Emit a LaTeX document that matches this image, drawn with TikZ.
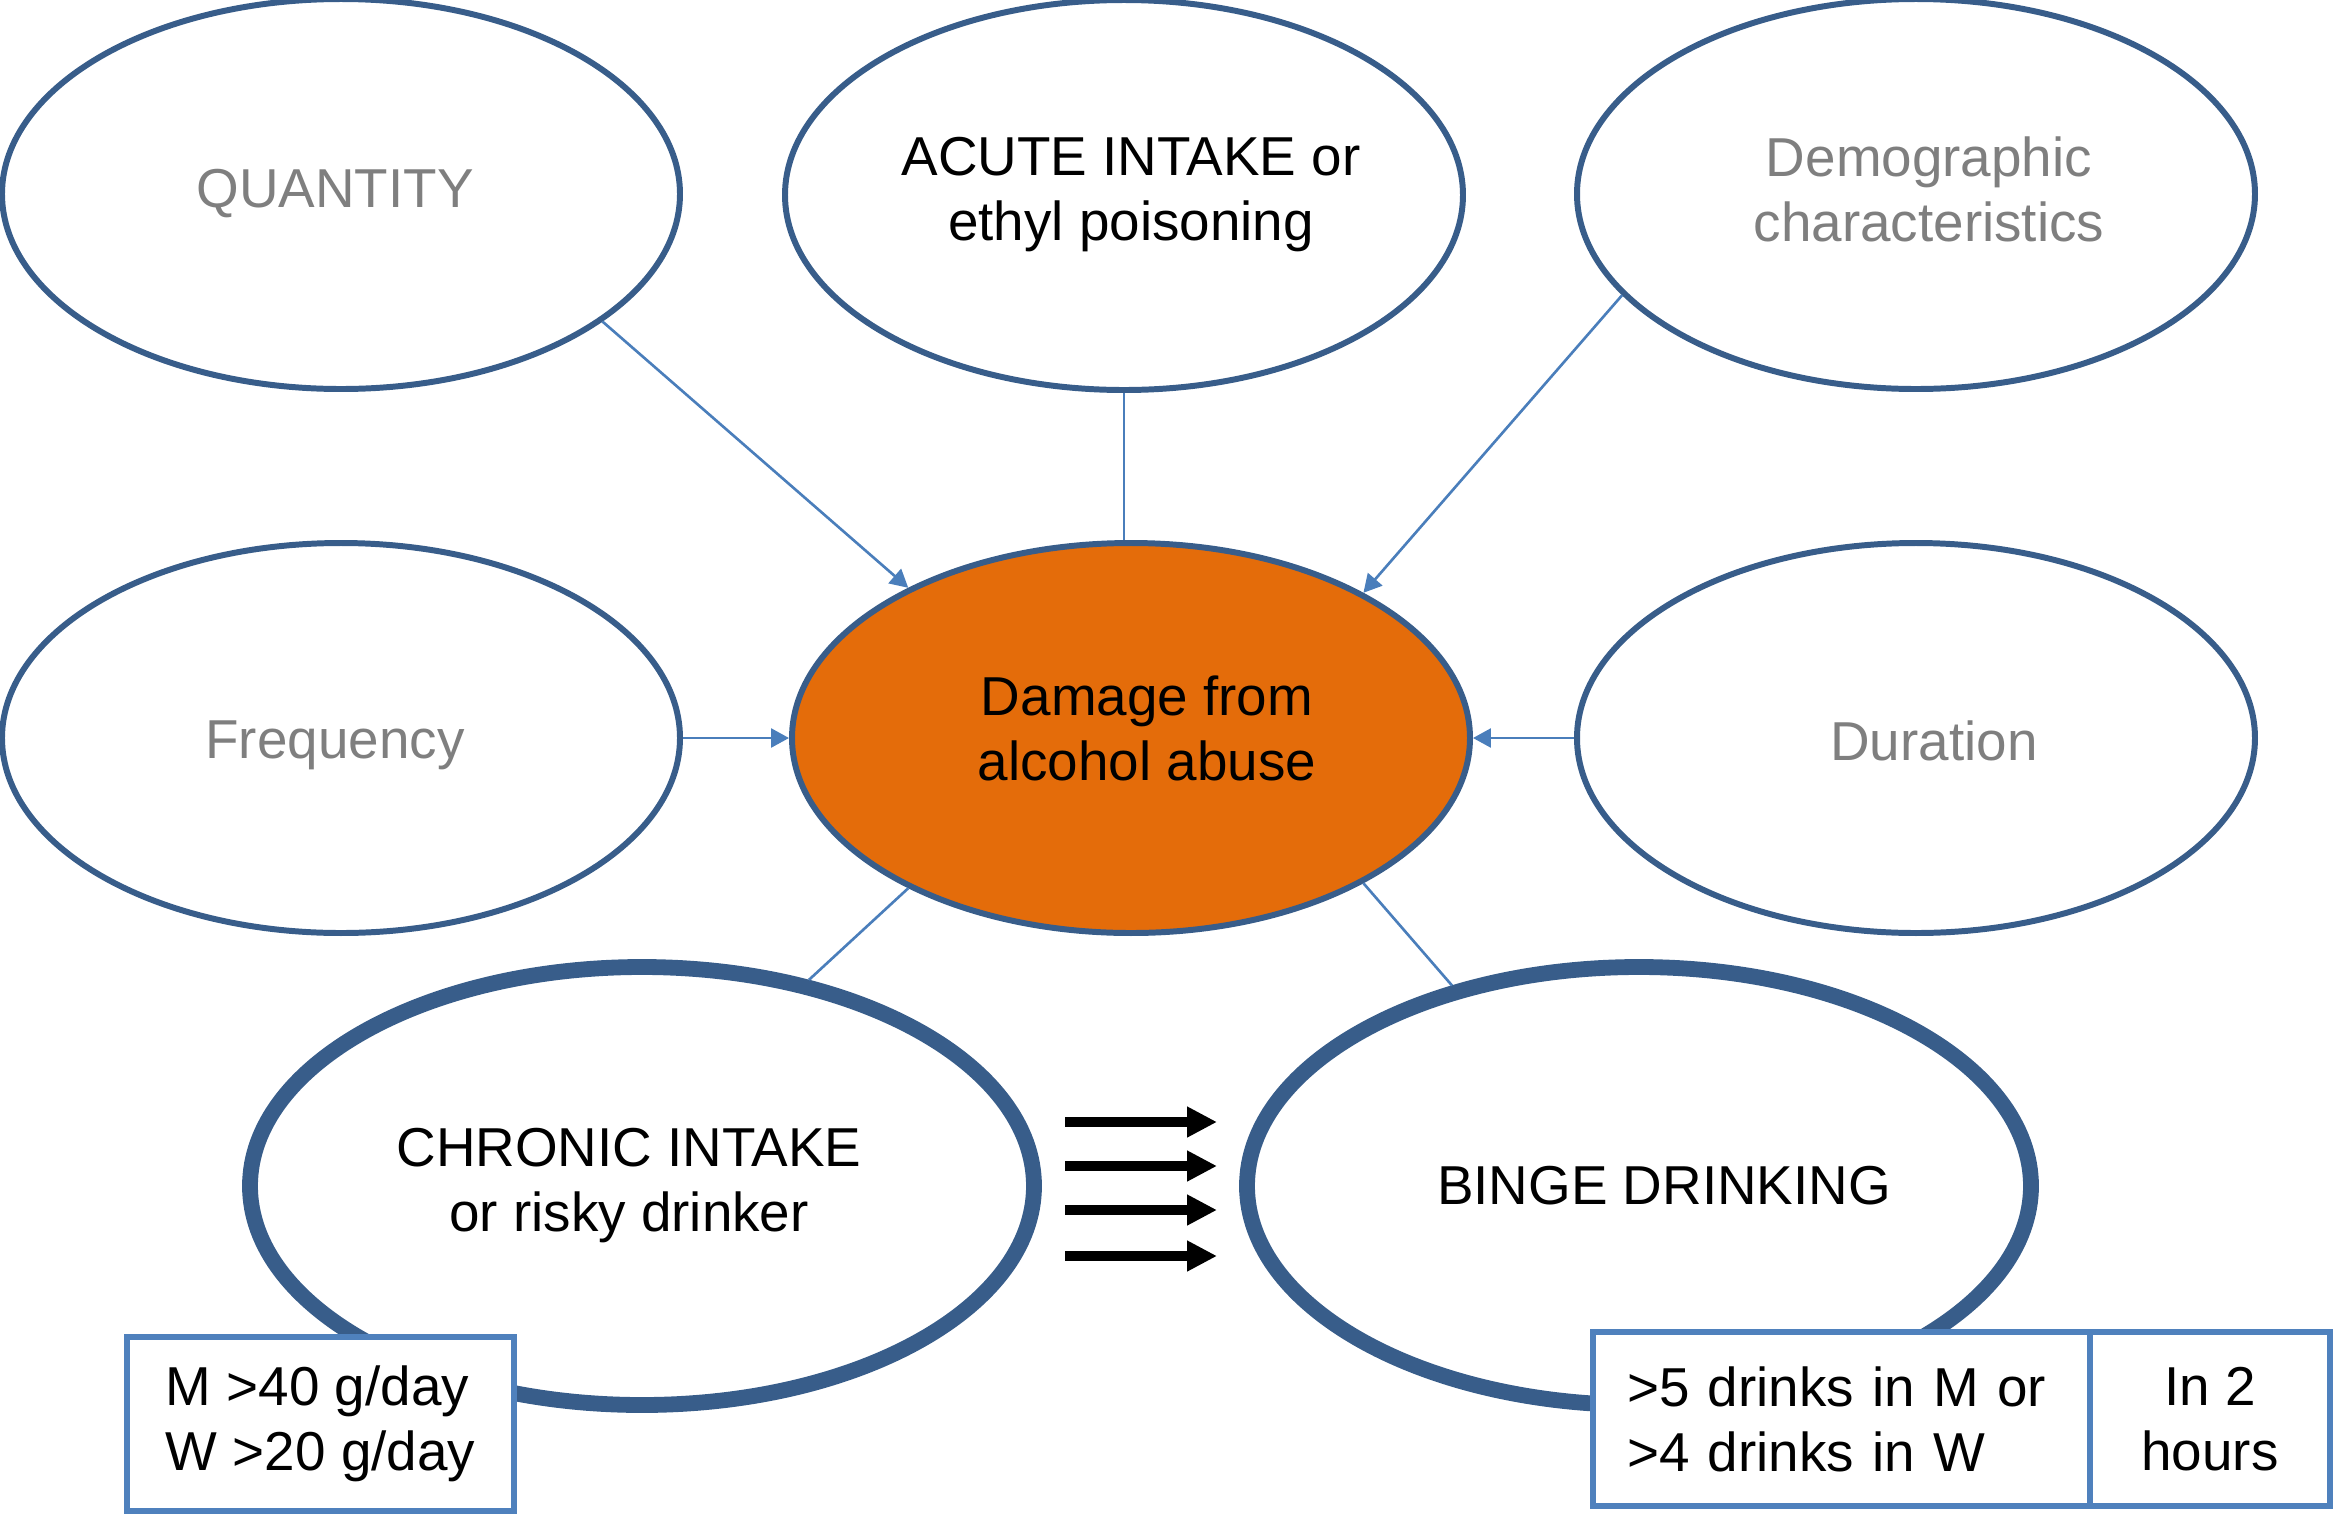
\documentclass[tikz,border=0pt]{standalone}
\usepackage{fontspec}
\setmainfont{Liberation Sans}
\usetikzlibrary{arrows.meta, shapes.geometric}
\definecolor{rimblue}{HTML}{385D8A}
\definecolor{linkblue}{HTML}{4A7EBB}
\definecolor{boxblue}{HTML}{4F81BD}
\definecolor{abuseorange}{HTML}{E46C0A}
\definecolor{factorgray}{HTML}{7F7F7F}

\begin{document}
\begin{tikzpicture}[
    txt/.style={font=\fontsize{15.6}{18.5}\selectfont, align=center},
    factor/.style={ellipse, draw=rimblue, line width=1.7pt, fill=white, inner sep=0pt,
        minimum width=6.78cm, minimum height=3.9cm},
    intake/.style={factor, line width=4.5pt, minimum width=7.84cm, minimum height=4.38cm},
    rule/.style={txt, draw=boxblue, line width=1.7pt, fill=white, inner sep=0pt, minimum height=1.74cm},
    link/.style={draw=linkblue, line width=0.75pt},
    arr/.style={link, -{Triangle[length=0.18cm, width=0.19cm]}},
    fat/.style={line width=3pt, -{Triangle[length=0.3cm, width=0.29cm]}}
]
    \useasboundingbox (0,0) rectangle (23.34,-15.15);

    % factors
    \node[factor] (quantity) at (3.41,-1.94) {};
    \node[factor] (acute) at (11.24,-1.95) {};
    \node[factor] (demog) at (19.16,-1.94) {};
    \node[factor] (freq) at (3.41,-7.38) {};
    \node[factor, fill=abuseorange] (damage) at (11.31,-7.38) {};
    \node[factor] (duration) at (19.16,-7.38) {};

    % kinds of intake
    \node[intake] (chronic) at (6.42,-11.86) {};
    \node[intake] (binge) at (16.39,-11.86) {};

    % texts
    \node[txt, text=factorgray] (quantity-t) at ([xshift=-0.06cm]quantity) {QUANTITY};
    \node[txt] (acute-t) at ([xshift=0.07cm]acute) {ACUTE INTAKE or\\ethyl poisoning};
    \node[txt, text=factorgray] (demog-t) at ([xshift=0.13cm, yshift=0.045cm]demog) {Demographic\\characteristics};
    \node[txt, text=factorgray] (freq-t) at ([xshift=-0.06cm, yshift=-0.07cm]freq) {Frequency};
    \node[txt] (damage-t) at ([xshift=0.16cm, yshift=0.1cm]damage) {Damage from\\alcohol abuse};
    \node[txt, text=factorgray] (duration-t) at ([xshift=0.18cm, yshift=-0.03cm]duration) {Duration};
    \node[txt] (chronic-t) at ([xshift=-0.13cm]chronic) {CHRONIC INTAKE\\or risky drinker};
    \node[txt] (binge-t) at ([xshift=0.25cm]binge) {BINGE DRINKING};

    % thresholds
    \node[rule, align=left, minimum width=3.87cm] (daily) at (3.205,-14.24) {M >40 g/day\\W >20 g/day};
    \node[rule, align=left, inner xsep=0.34cm, text width=4.29cm] (drinks) at (18.415,-14.19) {>5 drinks in M or\\>4 drinks in W};
    \node[rule, minimum width=2.40cm, anchor=west, xshift=-1.7pt] (hours) at (drinks.east) {In 2\\hours};

    % connectors
    \draw[arr] (quantity.-26.4) -- (damage.146.5);
    \draw[link] (acute.south) -- (acute.south |- damage.north);
    \draw[arr] (demog.-161.2) -- (damage.32);
    \draw[arr] (freq.east) -- (damage.west);
    \draw[arr] (duration.west) -- (damage.east);
    \draw[link] (damage.-146.3) -- (chronic.51.3);
    \draw[link] (damage.-32.4) -- (binge.133.5);

    % chronic leads to binge
    \foreach \y in {11.22,11.66,12.10,12.56}
        \draw[fat] (10.65,-\y) -- (12.17,-\y);
\end{tikzpicture}
\end{document}
